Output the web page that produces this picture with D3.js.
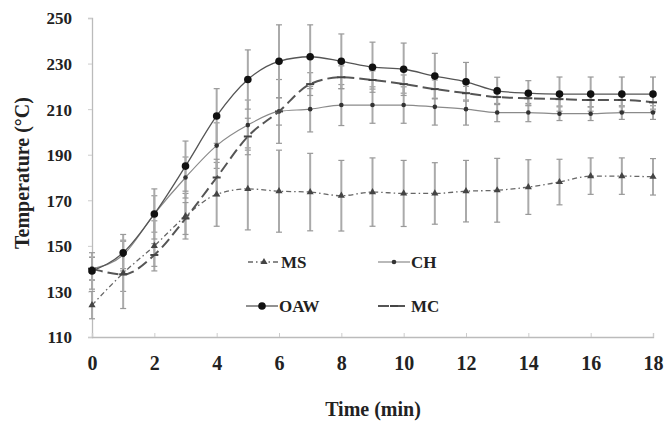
<!DOCTYPE html>
<html><head><meta charset="utf-8">
<script src="https://cdn.jsdelivr.net/npm/d3@7"></script>
<style>body{margin:0;background:#fff}svg{display:block}text{font-family:"Liberation Serif","Times New Roman",serif;font-weight:bold;fill:#222}</style>
</head><body>
<svg id="c" width="667" height="421"></svg>
<script>
const time = d3.range(0, 19);
const xTicks = [0,2,4,6,8,10,12,14,16,18];
const yTicks = [110,130,150,170,190,210,230,250];
const msVal  = [124,138,150,163,172.6,175,174,173.6,172,173.6,173,173,174,174.4,175.8,178,180.6,180.6,180.3];
const msErr  = [6,8,11,10,14,18,18,17,15.5,15,14.5,13.5,13.5,14,12,10,8,8,8];
const chVal  = [140,146,164,180,194,203,209,210,211.8,211.8,211.8,211,210,208.5,208.5,208,208,208.5,208.5];
const chErr  = [5,6,8,9,10,11,14,10,9,8,8,8,7,4,4,3,3,3,3];
const oawVal = [139,147,164,185,207,223,231,233,231,228.4,227.5,224.5,222,218,217,216.6,216.6,216.6,216.6];
const oawErr = [8,8,11,11,12,13,16,14,12,11,11.5,10,8.5,6,5.5,7.5,7.5,7.5,7.5];
const mcVal  = [140,137.5,146,162,180,198,209,221,224,222.8,221,218.8,217,215.3,214.8,214.4,214,214,213];
const mcErr  = [5,15,5,7,8,8,6,5,5,4,4,4,3,3,3,3,3,3,3];
const seriesNames = ["MS","CH","OAW","MC"];

const svg = d3.select("#c");
const x = d3.scaleLinear().domain([0,18]).range([92,653]);
const y = d3.scaleLinear().domain([110,250]).range([337,18]);

// axes
const gy = svg.append("g").attr("transform","translate(92,0)")
  .call(d3.axisLeft(y).tickValues(yTicks).tickSize(4).tickPadding(16).tickFormat(d3.format("d")));
const gx = svg.append("g").attr("transform","translate(0,337)")
  .call(d3.axisBottom(x).tickValues(xTicks).tickSize(-4).tickPadding(26).tickFormat(d3.format("d")));
[gx,gy].forEach(g=>{
  g.select(".domain").attr("stroke","#bbb").attr("stroke-width",1.3);
  g.selectAll(".tick line").attr("stroke","#ccc");
  g.selectAll(".tick text").attr("fill","#222");
});
gy.selectAll(".tick text").style("font-size","17px").attr("dy","0.35em");
gx.selectAll(".tick text").style("font-size","20px").attr("dy","0.35em");

const series = [
  {name:"MS", val:msVal, err:msErr, color:"#666", width:1.3, dash:"5,3,1.5,3", marker:"tri"},
  {name:"CH", val:chVal, err:chErr, color:"#8a8a8a", width:1.2, dash:null, marker:"small"},
  {name:"MC", val:mcVal, err:mcErr, color:"#555", width:2, dash:"11,5", marker:"dash"},
  {name:"OAW", val:oawVal, err:oawErr, color:"#555", width:1.3, dash:null, marker:"big"}
];

// error bars
const ebG = svg.append("g");
series.forEach(s=>{
  time.forEach((t,i)=>{
    const lo = y(s.val[i]-s.err[i]), hi = y(s.val[i]+s.err[i]), cx = x(t);
    ebG.append("line").attr("x1",cx).attr("x2",cx).attr("y1",lo).attr("y2",hi)
      .attr("stroke","#aaa").attr("stroke-width",2);
    [lo,hi].forEach(yy=>ebG.append("line").attr("x1",cx-3).attr("x2",cx+3).attr("y1",yy).attr("y2",yy)
      .attr("stroke","#999").attr("stroke-width",1.2));
  });
});

const line = d3.line().x((d,i)=>x(time[i])).y(d=>y(d)).curve(d3.curveMonotoneX);
function drawMarker(g, type, cx, cy, color){
  if(type==="big") g.append("circle").attr("cx",cx).attr("cy",cy).attr("r",3.8).attr("fill","#111");
  else if(type==="small") g.append("circle").attr("cx",cx).attr("cy",cy).attr("r",2.3).attr("fill","#333");
  else if(type==="tri") g.append("path").attr("d",d3.symbol(d3.symbolTriangle,22)()).attr("transform",`translate(${cx},${cy})`).attr("fill","#444");
  else if(type==="dash") g.append("line").attr("x1",cx-4).attr("x2",cx+4).attr("y1",cy).attr("y2",cy).attr("stroke","#444").attr("stroke-width",2);
}
series.forEach(s=>{
  svg.append("path").datum(s.val).attr("d",line).attr("fill","none")
    .attr("stroke",s.color).attr("stroke-width",s.width).attr("stroke-dasharray",s.dash);
  const mg = svg.append("g");
  s.val.forEach((v,i)=>drawMarker(mg,s.marker,x(time[i]),y(v),s.color));
});

// legend
const leg = [
  {name:"MS", x:248, y:262}, {name:"CH", x:378, y:262},
  {name:"OAW", x:246, y:306}, {name:"MC", x:378, y:306}
];
leg.forEach(l=>{
  const s = series.find(d=>d.name===l.name);
  svg.append("line").attr("x1",l.x).attr("x2",l.x+32).attr("y1",l.y).attr("y2",l.y)
    .attr("stroke",s.color).attr("stroke-width",s.width).attr("stroke-dasharray",s.dash);
  const mg = svg.append("g");
  drawMarker(mg,s.marker,l.x+16,l.y,s.color);
  svg.append("text").attr("x",l.x+33).attr("y",l.y).attr("dy","0.35em")
    .style("font-size","17px").text(l.name);
});

svg.append("text").attr("transform","translate(22,173) rotate(-90)").attr("text-anchor","middle").attr("dy","0.35em")
  .style("font-size","20px").text("Temperature (°C)");
svg.append("text").attr("x",373).attr("y",409).attr("text-anchor","middle").attr("dy","0.35em")
  .style("font-size","20px").text("Time (min)");
</script>
</body></html>
